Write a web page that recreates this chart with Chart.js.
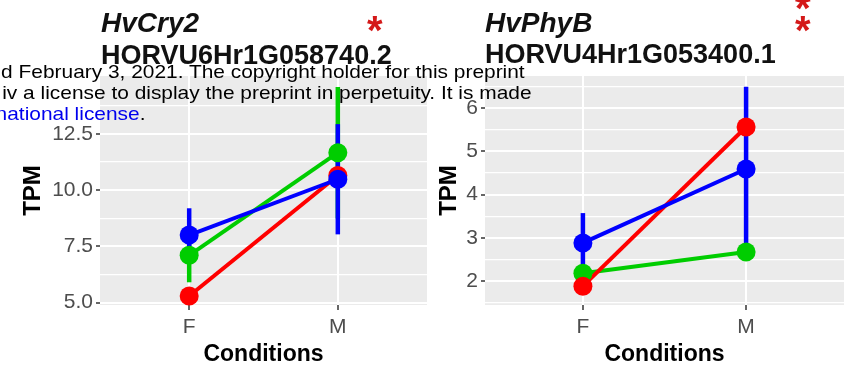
<!DOCTYPE html>
<html>
<head>
<meta charset="utf-8">
<script src="https://cdn.jsdelivr.net/npm/chart.js@4.4.1/dist/chart.umd.min.js"></script>
<style>
  html, body { margin: 0; padding: 0; background: #ffffff; }
  body { width: 856px; height: 370px; overflow: hidden; position: relative; font-family: "Liberation Sans", Arial, sans-serif; }
  canvas { position: absolute; top: 0; }
  .t { position: absolute; white-space: nowrap; line-height: 1; color: #111; z-index: 2; }
  .name { font-style: italic; font-weight: bold; font-size: 28px; }
  .gene { font-weight: bold; font-size: 27px; }
  .star { font-weight: bold; font-size: 40px; color: #D41919; }
  #wm { position: absolute; left: 0; top: 60.5px; font-size: 19px; line-height: 21.2px; color: #000; white-space: nowrap; transform: scaleX(1.1); transform-origin: 0 0; z-index: 3; }
  #wm a { color: #0000EE; text-decoration: none; }
</style>
</head>
<body>
<canvas id="cry2" width="430" height="370" style="left:0px"></canvas>
<canvas id="phyb" width="426" height="370" style="left:430px"></canvas>

<div class="t name" style="left:101px; top:9px;">HvCry2</div>
<div class="t gene" style="left:101px; top:42px;">HORVU6Hr1G058740.2</div>
<div class="t star" style="left:367px; top:10px;">*</div>

<div class="t name" style="left:485px; top:9px;">HvPhyB</div>
<div class="t gene" style="left:485px; top:41px;">HORVU4Hr1G053400.1</div>
<div class="t star" style="left:795px; top:-12px;">*</div>
<div class="t star" style="left:795px; top:10px;">*</div>

<div id="wm">
  <div style="margin-left:1px">d February 3, 2021. The copyright holder for this preprint</div>
  <div style="margin-left:2px">iv a license to display the preprint in perpetuity. It is made</div>
  <div style="margin-left:-4px"><a>national license</a>.</div>
</div>

<script>
// ---------------- DATA ----------------
const categories = ['F', 'M'];
const seriesColors = ['#FF0000', '#00CD00', '#0000FF'];   // red, green, blue groups

// HvCry2 (HORVU6Hr1G058740.2)
const cry2Red = [5.29, 10.65];
const cry2RedErr = [0.1, 0.3];
const cry2Green = [7.1, 11.66];
const cry2GreenErr = [1.2, 2.92];
const cry2Blue = [8.0, 10.48];
const cry2BlueErr = [1.19, 2.45];
const cry2MajorTicks = [5, 7.5, 10, 12.5];
const cry2MinorTicks = [6.25, 8.75, 11.25, 13.75];

// HvPhyB (HORVU4Hr1G053400.1)
const phybRed = [1.88, 5.56];
const phybRedErr = [0.18, 0.2];
const phybGreen = [2.18, 2.67];
const phybGreenErr = [0.1, 0.1];
const phybBlue = [2.88, 4.59];
const phybBlueErr = [0.69, 1.9];
const phybMajorTicks = [2, 3, 4, 5, 6];
const phybMinorTicks = [1.5, 2.5, 3.5, 4.5, 5.5, 6.5];

// ---------------- CHART ----------------
const FAMILY = '"Liberation Sans", Arial, sans-serif';
Chart.defaults.font.family = FAMILY;

const panelBg = {
  id: 'panelBg',
  beforeDraw(chart) {
    const { ctx, chartArea: a } = chart;
    ctx.save();
    ctx.fillStyle = '#EBEBEB';
    ctx.fillRect(a.left, a.top, a.right - a.left, a.bottom - a.top);
    ctx.restore();
  }
};

function buildDatasets(groups) {
  // groups: [{mean, err, color, rank}] ; rank 0 = drawn on top
  const ds = [];
  groups.forEach(g => {
    // error bars
    categories.forEach((c, i) => {
      ds.push({
        data: [{ x: i + 1, y: g.mean[i] - g.err[i] }, { x: i + 1, y: g.mean[i] + g.err[i] }],
        borderColor: g.color, borderWidth: 4.5, pointRadius: 0, borderCapStyle: 'butt',
        order: 20 + g.rank, clip: false
      });
    });
    // connecting line
    ds.push({
      data: categories.map((c, i) => ({ x: i + 1, y: g.mean[i] })),
      borderColor: g.color, borderWidth: 4, pointRadius: 0, order: 10 + g.rank
    });
    // points
    ds.push({
      data: categories.map((c, i) => ({ x: i + 1, y: g.mean[i] })),
      showLine: false, pointRadius: 9.5, pointBackgroundColor: g.color,
      pointBorderWidth: 0, borderColor: g.color, order: g.rank, clip: false
    });
  });
  return ds;
}

function makeChart(id, groups, yMin, yMax, majors, minors, fmt, yWidth, yTitlePad, rightPad) {
  const allTicks = majors.concat(minors).sort((a, b) => a - b);
  const isMajor = v => majors.some(m => Math.abs(m - v) < 1e-9);
  return new Chart(document.getElementById(id), {
    type: 'line',
    data: { datasets: buildDatasets(groups) },
    options: {
      responsive: false, animation: false, devicePixelRatio: 1,
      layout: { autoPadding: false, padding: { top: 76, right: rightPad, left: 0, bottom: 0 } },
      plugins: { legend: { display: false }, tooltip: { enabled: false } },
      scales: {
        x: {
          type: 'linear', min: 0.4, max: 2.6,
          afterBuildTicks: s => { s.ticks = categories.map((c, i) => ({ value: i + 1 })); },
          afterFit: s => { s.height = 65; },
          ticks: { callback: v => categories[Math.round(v) - 1], font: { size: 21 }, color: '#4D4D4D', padding: 5, autoSkip: false, maxRotation: 0 },
          grid: { color: '#FFFFFF', lineWidth: 2, tickColor: '#333333', tickLength: 5, tickWidth: 1.5 },
          border: { display: false },
          title: { display: true, text: 'Conditions', color: '#000', font: { size: 23, weight: 'bold' }, padding: { top: 0, bottom: 2 } }
        },
        y: {
          type: 'linear', min: yMin, max: yMax,
          afterBuildTicks: s => { s.ticks = allTicks.map(v => ({ value: v })); },
          afterFit: s => { s.width = yWidth; },
          ticks: { callback: v => isMajor(v) ? fmt(v) : '', font: { size: 21 }, color: '#4D4D4D', padding: 3, autoSkip: false },
          grid: {
            color: '#FFFFFF',
            lineWidth: c => isMajor(c.tick.value) ? 2 : 1.2,
            tickColor: c => isMajor(c.tick.value) ? '#333333' : 'rgba(0,0,0,0)',
            tickLength: 4, tickWidth: 1.5
          },
          border: { display: false },
          title: { display: true, text: 'TPM', color: '#000', font: { size: 24, weight: 'bold' }, padding: { top: yTitlePad, bottom: 0 } }
        }
      }
    },
    plugins: [panelBg]
  });
}

makeChart('cry2', [
  { mean: cry2Red, err: cry2RedErr, color: seriesColors[0], rank: 1 },
  { mean: cry2Green, err: cry2GreenErr, color: seriesColors[1], rank: 2 },
  { mean: cry2Blue, err: cry2BlueErr, color: seriesColors[2], rank: 0 }
], 4.89, 15.07, cry2MajorTicks, cry2MinorTicks, v => v.toFixed(1), 100, 19.3, 3);

makeChart('phyb', [
  { mean: phybRed, err: phybRedErr, color: seriesColors[0], rank: 1 },
  { mean: phybGreen, err: phybGreenErr, color: seriesColors[1], rank: 2 },
  { mean: phybBlue, err: phybBlueErr, color: seriesColors[2], rank: 0 }
], 1.445, 6.74, phybMajorTicks, phybMinorTicks, v => String(v), 55, 5.3, 12);
</script>
</body>
</html>
